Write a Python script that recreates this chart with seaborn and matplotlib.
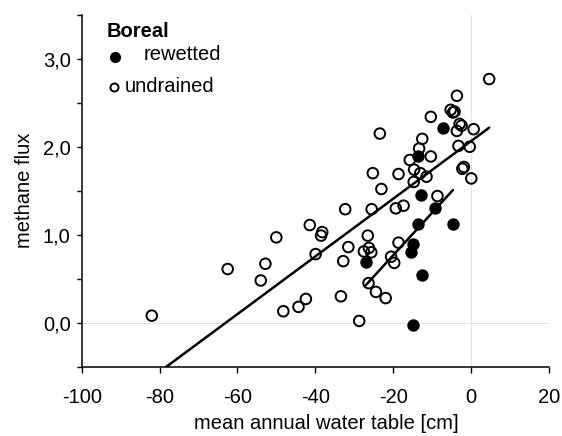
import numpy as np
import matplotlib
matplotlib.use("Agg")
import matplotlib.pyplot as plt
from matplotlib.ticker import FuncFormatter
import seaborn as sns

# Boreal, undrained sites (open circles)
undrained_wt = [-82.0, -62.5, -54.0, -52.8, -50.0, -48.2, -44.3, -42.4, -41.4, -38.2,
                -38.5, -39.9, -33.4, -32.8, -32.3, -31.5, -28.7, -26.5, -26.2, -27.5,
                -25.6, -26.3, -25.5, -25.2, -24.4, -23.4, -23.0, -21.9, -20.5, -19.7,
                -19.3, -18.6, -18.6, -17.3, -15.7, -14.7, -14.6, -13.3, -13.0, -12.5,
                -11.4, -10.3, -10.3, -8.6, -5.2, -4.6, -4.2, -3.6, -3.6, -3.2,
                -2.9, -2.4, -2.2, -1.8, -0.3, 0.1, 0.7, 4.7]
undrained_flux = [0.08, 0.61, 0.48, 0.67, 0.97, 0.13, 0.18, 0.27, 1.11, 1.03,
                  0.99, 0.78, 0.30, 0.70, 1.29, 0.86, 0.02, 0.99, 0.85, 0.81,
                  0.80, 0.45, 1.29, 1.70, 0.35, 2.15, 1.52, 0.28, 0.75, 0.68,
                  1.30, 0.91, 1.69, 1.33, 1.85, 1.60, 1.74, 1.98, 1.70, 2.09,
                  1.66, 2.34, 1.89, 1.44, 2.42, 2.39, 2.40, 2.58, 2.18, 2.01,
                  2.26, 2.24, 1.75, 1.77, 2.00, 1.64, 2.20, 2.77]

# Boreal, rewetted sites (filled circles)
rewetted_wt = [-27.0, -15.4, -15.0, -15.0, -13.7, -12.9, -13.6, -12.6, -9.3, -7.1, -4.6]
rewetted_flux = [0.69, 0.80, 0.89, -0.03, 1.12, 1.45, 1.89, 0.54, 1.30, 2.21, 1.12]

x_ticks = [-100, -80, -60, -40, -20, 0, 20]
y_ticks = [-0.5, 0.0, 0.5, 1.0, 1.5, 2.0, 2.5, 3.0, 3.5]

sns.set_style("ticks")
plt.rcParams["font.family"] = ["Liberation Sans", "DejaVu Sans"]
plt.rcParams["axes.unicode_minus"] = False
plt.rcParams["text.color"] = "black"
plt.rcParams["axes.labelcolor"] = "black"
plt.rcParams["xtick.color"] = "black"
plt.rcParams["ytick.color"] = "black"

FS = 14.5

fig = plt.figure(figsize=(5.62, 4.36), dpi=100)
ax = fig.add_axes([0.1454, 0.159, 0.831, 0.807])

# zero lines
ax.axhline(0, color="#e2e2e2", lw=0.8, zorder=0)
ax.axvline(0, color="#e2e2e2", lw=0.8, zorder=0)

sns.scatterplot(x=undrained_wt, y=undrained_flux, ax=ax, marker="o", s=58,
                facecolor="none", edgecolor="black", linewidth=1.4, zorder=2)
sns.scatterplot(x=rewetted_wt, y=rewetted_flux, ax=ax, marker="o", s=80,
                color="black", edgecolor="black", linewidth=0, zorder=2)

# linear fits
sns.regplot(x=np.array(undrained_wt), y=np.array(undrained_flux), ax=ax, scatter=False,
            ci=None, truncate=True, line_kws=dict(color="black", lw=1.8, zorder=3))
sns.regplot(x=np.array(rewetted_wt), y=np.array(rewetted_flux), ax=ax, scatter=False,
            ci=None, truncate=True, line_kws=dict(color="black", lw=1.8, zorder=3))

ax.set_xlim(-100, 20)
ax.set_ylim(-0.5, 3.5)
ax.set_xticks(x_ticks)
ax.set_yticks(y_ticks)
ax.yaxis.set_major_formatter(FuncFormatter(
    lambda v, p: f"{v:.1f}".replace(".", ",") if float(v).is_integer() else ""))

sns.despine(ax=ax)
for s in ["left", "bottom"]:
    ax.spines[s].set_linewidth(1.1)
    ax.spines[s].set_color("black")
ax.tick_params(axis="x", direction="out", length=4.3, width=1.0, pad=11, labelsize=FS)
ax.tick_params(axis="y", direction="out", length=3.6, width=1.0, pad=4.3, labelsize=FS)

ax.set_xlabel("mean annual water table [cm]", fontsize=FS, labelpad=5)
ax.set_ylabel("methane flux", fontsize=FS, labelpad=6.5)
ax.xaxis.label.set_x(0.523)

# legend drawn by hand
ax.text(0.0535, 0.954, "Boreal", transform=ax.transAxes, fontsize=FS,
        fontweight="bold", va="center", ha="left")
ax.plot([0.0707], [0.879], marker="o", ms=8, color="black", mew=0,
        transform=ax.transAxes, clip_on=False)
ax.text(0.132, 0.886, "rewetted", transform=ax.transAxes, fontsize=FS,
        va="center", ha="left")
ax.plot([0.0700], [0.794], marker="o", ms=5.8, mfc="none", mec="black", mew=1.4,
        transform=ax.transAxes, clip_on=False)
ax.text(0.0927, 0.795, "undrained", transform=ax.transAxes, fontsize=FS,
        va="center", ha="left")

fig.savefig("out.png", dpi=100)
